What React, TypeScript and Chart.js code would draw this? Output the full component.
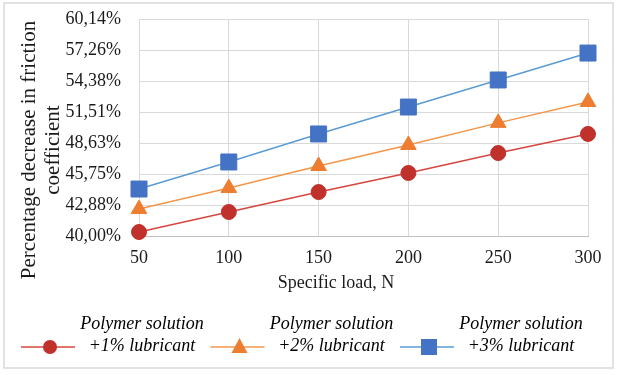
import React, { useEffect, useRef } from "react";
import { Chart, registerables } from "chart.js";

Chart.register(...registerables);

const loads = [50, 100, 150, 200, 250, 300];
const lub1 = [40.37, 42.23, 44.08, 45.85, 47.7, 49.47];
const lub2 = [42.5, 44.45, 46.5, 48.45, 50.5, 52.44];
const lub3 = [44.36, 46.87, 49.47, 51.97, 54.48, 56.98];
const yTicks = [40.0, 42.877, 45.754, 48.631, 51.508, 54.384, 57.261, 60.14];
const yTickLabels = ["40,00%", "42,88%", "45,75%", "48,63%", "51,51%", "54,38%", "57,26%", "60,14%"];
const seriesNames = [
  ["Polymer solution", "+1% lubricant"],
  ["Polymer solution", "+2% lubricant"],
  ["Polymer solution", "+3% lubricant"],
];
const xTitle = "Specific load, N";
const yTitle = ["Percentage decrease in friction", "coefficient"];

const FONT = "'Liberation Serif', 'Times New Roman', serif";
const TEXT = "#1a1a1a";

const styles = [
  { line: "#D6463F", fill: "#C0312B", shape: "circle", r: 7.5 },
  { line: "#F4964A", fill: "#ED7D31", shape: "triangle", r: 9 },
  { line: "#5B9BD5", fill: "#4472C4", shape: "rect", r: 11.3 },
];

export default function App() {
  const ref = useRef<HTMLCanvasElement | null>(null);

  useEffect(() => {
    document.body.style.margin = "0";
    const canvas = ref.current;
    if (!canvas) return;

    const series = [lub1, lub2, lub3];

    const decor = {
      id: "decor",
      beforeDraw(chart: any) {
        const ctx = chart.ctx;
        ctx.save();
        ctx.fillStyle = "#ffffff";
        ctx.fillRect(0, 0, chart.width, chart.height);
        ctx.strokeStyle = "#d9d9d9";
        ctx.lineWidth = 1.5;
        ctx.strokeRect(4, 3, 609, 365);
        ctx.restore();
      },
      afterDraw(chart: any) {
        const ctx = chart.ctx;
        ctx.save();
        // axis titles
        ctx.fillStyle = TEXT;
        ctx.textAlign = "center";
        ctx.textBaseline = "middle";
        ctx.font = `18px ${FONT}`;
        ctx.fillText(xTitle, 336, 283);
        ctx.save();
        ctx.translate(0, 150);
        ctx.rotate(-Math.PI / 2);
        ctx.font = `21px ${FONT}`;
        ctx.fillText(yTitle[0], 0, 29);
        ctx.fillText(yTitle[1], 0, 53);
        ctx.restore();

        // legend
        for (let i = 0; i < 3; i++) {
          const x0 = 21 + i * 189.5;
          const st = styles[i];
          const ly = 347;
          ctx.strokeStyle = st.line;
          ctx.lineWidth = 1.5;
          ctx.beginPath();
          ctx.moveTo(x0, ly);
          ctx.lineTo(x0 + 54, ly);
          ctx.stroke();
          ctx.fillStyle = st.fill;
          const mx = x0 + 29;
          ctx.beginPath();
          if (st.shape === "circle") {
            ctx.arc(mx, ly, 7, 0, Math.PI * 2);
          } else if (st.shape === "triangle") {
            ctx.moveTo(mx, ly - 9);
            ctx.lineTo(mx + 8, ly + 6);
            ctx.lineTo(mx - 8, ly + 6);
            ctx.closePath();
          } else {
            ctx.rect(mx - 8, ly - 8, 16, 16);
          }
          ctx.fill();
          ctx.fillStyle = "#000";
          ctx.font = `italic 18px ${FONT}`;
          ctx.textAlign = "center";
          ctx.textBaseline = "middle";
          ctx.fillText(seriesNames[i][0], x0 + 121, 324);
          ctx.fillText(seriesNames[i][1], x0 + 121, 346);
        }
        ctx.restore();
      },
    };

    const chart = new Chart(canvas, {
      type: "line",
      data: {
        datasets: series.map((vals, i) => ({
          label: seriesNames[i].join(" "),
          data: loads.map((x, j) => ({ x, y: vals[j] })),
          borderColor: styles[i].line,
          backgroundColor: styles[i].fill,
          pointBackgroundColor: styles[i].fill,
          pointBorderColor: styles[i].fill,
          pointBorderWidth: 1,
          pointStyle: styles[i].shape as any,
          pointRadius: styles[i].r,
          borderWidth: 1.5,
          tension: 0,
          clip: false as any,
        })),
      },
      plugins: [decor],
      options: {
        responsive: false,
        animation: false,
        layout: { autoPadding: false, padding: { left: 0, right: 30, top: 19, bottom: 0 } },
        plugins: {
          legend: { display: false },
          tooltip: { enabled: false },
        },
        scales: {
          x: {
            type: "linear",
            min: 50,
            max: 300,
            ticks: {
              stepSize: 50,
              color: TEXT,
              font: { family: FONT, size: 18 },
              padding: 0,
              maxRotation: 0,
            },
            grid: { color: "#d9d9d9", drawTicks: true, tickLength: 11, tickColor: "rgba(0,0,0,0)" },
            border: { color: "#bfbfbf" },
            afterFit(scale: any) {
              scale.height = 139;
            },
          },
          y: {
            type: "linear",
            min: 40,
            max: 60.14,
            afterBuildTicks(scale: any) {
              scale.ticks = yTicks.map((v) => ({ value: v }));
            },
            ticks: {
              color: TEXT,
              font: { family: FONT, size: 18 },
              padding: 0,
              callback: (_v: any, i: number) => yTickLabels[i],
            },
            grid: { color: "#d9d9d9", drawTicks: true, tickLength: 18, tickColor: "rgba(0,0,0,0)" },
            border: { color: "#d9d9d9" },
            afterFit(scale: any) {
              scale.width = 139;
            },
          },
        },
      },
    });

    return () => chart.destroy();
  }, []);

  return (
    <div style={{ width: 618, height: 375 }}>
      <canvas ref={ref} width={618} height={375} style={{ display: "block" }} />
    </div>
  );
}
